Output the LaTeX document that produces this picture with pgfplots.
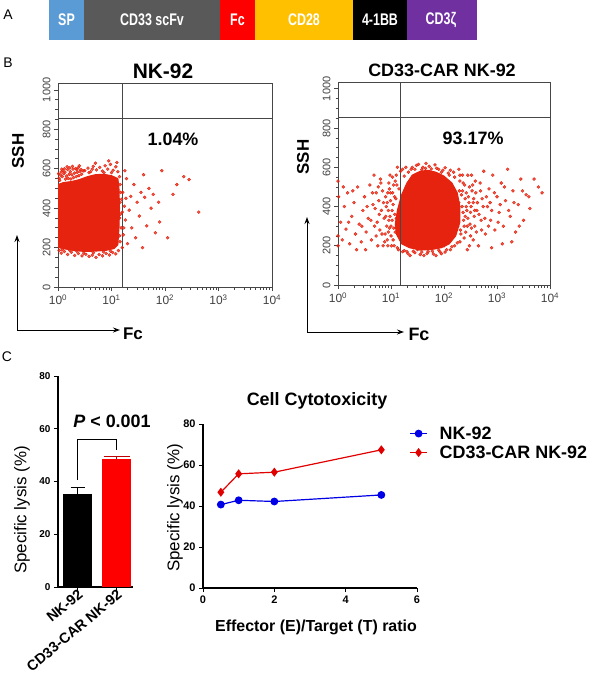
\documentclass[border=0pt]{standalone}
\usepackage{pgfplots}
\pgfplotsset{compat=1.18}
\usetikzlibrary{arrows.meta}
\usepackage{fontspec}
\setmainfont{Liberation Sans}
\definecolor{spblue}{RGB}{91,155,213}
\definecolor{scfvgray}{RGB}{89,89,89}
\definecolor{fcred}{RGB}{255,0,0}
\definecolor{cdamber}{RGB}{255,192,0}
\definecolor{cdpurple}{RGB}{112,48,160}
\definecolor{flowred}{RGB}{230,35,15}
\definecolor{gatecol}{RGB}{70,70,70}
\definecolor{lineblue}{RGB}{0,0,230}
\definecolor{linered}{RGB}{225,0,0}
\newcommand{\fs}[1]{\fontsize{#1}{#1}\selectfont}
\newcommand{\tall}[1]{\scalebox{1}[1.35]{#1}}
\pgfplotsset{
  flowaxis/.style={scale only axis, xmin=0, xmax=4, ymin=0, ymax=1035,
    axis line style={gatecol, line width=0.9pt},
    xtick={0,1,2,3,4},
    xticklabels={10\textsuperscript{0},10\textsuperscript{1},10\textsuperscript{2},10\textsuperscript{3},10\textsuperscript{4}},
    minor xtick={0.301,0.477,0.602,0.699,0.778,0.845,0.903,0.954,
      1.301,1.477,1.602,1.699,1.778,1.845,1.903,1.954,
      2.301,2.477,2.602,2.699,2.778,2.845,2.903,2.954,
      3.301,3.477,3.602,3.699,3.778,3.845,3.903,3.954},
    ytick={0,200,400,600,800,1000}, minor ytick={0,50,...,1000},
    tick align=outside, xtick pos=left, ytick pos=left,
    major tick length=4bp, minor tick length=2.5bp,
    tick style={gatecol, line width=0.8pt},
    /pgf/number format/assume math mode=true,
    /pgf/number format/1000 sep={},
    yticklabel style={rotate=90, anchor=south, font=\fs{11}, text=darkgray},
    xticklabel style={font=\fs{12}, text=darkgray}},
  dots/.style={flowred, only marks, mark=*, mark size=1.5pt, mark options={draw=none, fill=flowred, fill opacity=0.75}},
}
\begin{document}
\begin{tikzpicture}
\useasboundingbox (0,0) rectangle (600bp,-686bp);
% ---------------- Panel A ----------------
\node[font=\fs{14}] at (8bp,-15bp) {A};
\begin{axis}[at={(49bp,-40bp)}, anchor=south west, scale only axis, width=428bp, height=40bp,
  xmin=0, xmax=428, ymin=0, ymax=1, hide axis, clip=false]
\addplot[xbar stacked, bar width=40bp, fill=spblue, draw=none] coordinates {(35,0.5)};
\addplot[xbar stacked, bar width=40bp, fill=scfvgray, draw=none] coordinates {(136,0.5)};
\addplot[xbar stacked, bar width=40bp, fill=fcred, draw=none] coordinates {(35,0.5)};
\addplot[xbar stacked, bar width=40bp, fill=cdamber, draw=none] coordinates {(98,0.5)};
\addplot[xbar stacked, bar width=40bp, fill=black, draw=none] coordinates {(54,0.5)};
\addplot[xbar stacked, bar width=40bp, fill=cdpurple, draw=none] coordinates {(70,0.5)};
\end{axis}
\begin{scope}[every node/.style={text=white, font=\bfseries\fs{12.5}}]
\node at (66.5bp,-20bp) {\tall{SP}};
\node at (152bp,-20bp) {\tall{CD33 scFv}};
\node at (237.5bp,-20bp) {\tall{Fc}};
\node at (304bp,-20bp) {\tall{CD28}};
\node at (380bp,-20bp) {\tall{4-1BB}};
\node at (441bp,-20bp) {\tall{CD3ζ}};
\end{scope}
% ---------------- Panel B ----------------
\node[font=\fs{14}] at (8bp,-63bp) {B};
\begin{axis}[flowaxis, at={(58bp,-287bp)}, anchor=south west, width=214bp, height=204bp]
\addplot[fill=flowred, draw=flowred, line width=1pt, line join=round] coordinates {
(0.0,200)(0.15,192)(0.3,185)(0.5,180)(0.7,182)(0.9,186)(1.05,195)(1.12,215)(1.14,300)(1.15,400)(1.14,500)(1.12,550)(1.0,565)(0.85,572)(0.7,570)(0.55,560)(0.4,545)(0.25,535)(0.1,530)(0.0,520)(0.0,200)};
\addplot[dots] coordinates {
(0.02,552)(0.05,568)(0.03,541)(0.08,560)(0.11,575)(0.09,590)(0.14,547)(0.16,563)(0.13,583)(0.19,551)(0.21,572)(0.18,596)(0.24,548)(0.26,569)(0.23,585)(0.29,555)(0.31,578)(0.28,598)(0.34,560)(0.36,582)(0.33,601)(0.39,565)(0.41,587)(0.38,606)(0.44,572)(0.43,596)(0.06,584)(0.17,610)(0.27,612)(0.40,615)(0.12,600)(0.35,596)(0.22,604)(0.47,589)(0.01,575)(0.07,598)
(0.50,590)(0.56,603)(0.61,585)(0.66,612)(0.72,594)(0.78,607)(0.83,588)(0.88,615)(0.93,598)(0.98,622)(1.03,592)(1.08,610)(1.12,585)(0.70,628)(0.95,640)(1.10,632)(0.58,580)(0.86,580)(0.64,598)(1.00,580)
(0.02,185)(0.06,172)(0.12,180)(0.18,165)(0.25,176)(0.31,160)(0.38,170)(0.45,158)(0.52,166)(0.58,155)(0.64,162)(0.71,150)(0.77,165)(0.83,158)(0.90,170)(0.96,162)(1.02,175)(1.08,168)(1.13,185)(0.48,172)(0.85,178)(0.35,182)(0.08,190)(0.22,186)(0.66,174)(0.98,182)
(1.15,260)(1.15,350)(1.16,430)(1.17,480)(1.15,560)(1.2,380)(1.23,300)(1.27,450)
(1.16,230)(1.18,300)(1.17,370)(1.19,445)(1.16,520)(1.22,265)(1.24,410)(1.21,480)(1.26,340)(1.28,550)(1.30,220)(1.33,390)(1.36,460)(1.38,300)(1.42,520)(1.45,250)(1.48,430)(1.52,360)(1.55,480)(1.58,200)(1.62,455)(1.66,310)(1.70,500)(1.74,400)(1.78,470)(1.82,275)(1.88,430)(1.94,590)(2.05,250)(2.15,470)(2.22,520)(2.35,560)(2.45,545)(2.63,380)(1.90,330)(1.60,570)(1.25,590)(1.20,200)};
\addplot[gatecol, line width=1.1pt] coordinates {(1.2,0)(1.2,1035)};
\addplot[gatecol, line width=1.1pt] coordinates {(0,855)(4,855)};
\node[font=\bfseries\fs{18}] at (axis cs:2.15,750) {1.04\%};
\end{axis}
\node[font=\bfseries\fs{21}] at (163bp,-71bp) {NK-92};
\node[font=\bfseries\fs{17}, rotate=90] at (18bp,-151bp) {SSH};
\draw[-{Stealth[length=7bp,width=5bp]}, line width=1pt] (17bp,-330bp) -- (17bp,-235bp);
\draw[-{Stealth[length=7bp,width=5bp]}, line width=1pt] (17bp,-330bp) -- (120bp,-330bp);
\node[font=\bfseries\fs{17}] at (133bp,-334bp) {Fc};

\begin{axis}[flowaxis, at={(338bp,-285bp)}, anchor=south west, width=212bp, height=203bp]
\addplot[fill=flowred, draw=flowred, line width=1pt, line join=round] coordinates {
(1.1,260)(1.2,210)(1.35,190)(1.55,178)(1.75,180)(1.95,190)(2.1,210)(2.22,250)(2.3,320)(2.3,400)(2.25,470)(2.15,520)(2.0,555)(1.85,575)(1.7,585)(1.55,580)(1.4,560)(1.3,520)(1.2,460)(1.12,380)(1.08,310)(1.1,260)};
\addplot[dots] coordinates {
(1.00,250)(1.02,330)(1.04,410)(1.03,470)(1.06,200)(1.08,530)(1.10,560)(1.14,180)(1.15,490)(1.18,580)(1.22,170)(1.25,555)(1.28,600)(1.32,160)(1.38,590)(1.45,165)(1.48,610)(1.55,155)(1.60,600)(1.68,160)(1.72,605)(1.80,158)(1.86,595)(1.92,170)(1.98,585)(2.05,180)(2.08,570)(2.15,195)(2.20,550)(2.25,215)(2.30,530)(2.32,260)(2.35,480)(2.38,300)(2.40,440)(2.36,370)(2.42,400)(2.45,340)(2.48,500)(2.50,250)(2.52,560)(2.55,420)(2.58,300)(2.60,470)(2.62,380)(2.65,200)(2.68,520)(2.70,330)(2.72,440)(2.75,580)(0.95,380)(0.92,300)(0.90,450)(0.88,220)(0.96,520)(1.12,600)(2.28,590)(2.44,180)
(0.72,250)(0.74,320)(0.77,430)(0.79,280)(0.82,380)(0.84,480)(0.87,340)(0.89,260)(0.91,400)(0.93,230)(0.94,470)(0.97,290)(0.98,350)(0.99,430)(1.01,200)(1.05,290)(1.07,360)(1.09,440)(1.11,510)(0.85,200)(0.81,520)(0.76,500)
(2.26,300)(2.28,420)(2.30,220)(2.33,460)(2.37,330)(2.39,510)(2.41,270)(2.43,380)(2.46,450)(2.49,310)(2.51,400)(2.53,480)(2.57,350)(2.59,530)(2.61,270)(2.63,420)(2.66,360)(2.69,480)(2.71,280)(2.74,400)(2.77,340)(2.80,450)(2.84,300)(2.87,420)(2.35,560)(2.55,230)
(1.3,170)(1.5,180)(1.7,170)(1.9,178)(2.0,200)(1.4,600)(1.65,595)(1.95,575)(2.1,560)
(1.12,190)(1.25,175)(1.42,172)(1.58,168)(1.62,150)(1.78,172)(1.85,150)(2.02,168)(2.12,180)(2.2,200)(1.36,150)(1.95,160)
(1.22,590)(1.33,575)(1.45,590)(1.52,615)(1.58,588)(1.76,592)(1.83,612)(1.9,590)(2.02,598)(2.12,585)(2.18,575)(1.66,620)
(0.9,350)(0.93,420)(0.95,270)(0.97,490)(1.0,300)(1.02,380)(1.04,230)(1.05,510)(1.07,450)(1.08,270)(1.1,340)(0.96,330)(0.99,470)(1.03,550)(0.94,200)(0.98,560)
(2.27,360)(2.29,480)(2.31,280)(2.34,400)(2.36,520)(2.38,240)(2.4,350)(2.42,470)(2.44,300)(2.47,420)(2.5,370)(2.52,290)(2.54,510)(2.56,440)(2.3,560)(2.45,560)(2.48,200)(2.58,380)
(2.9,380)(2.95,470)(3.02,320)(3.06,410)(3.14,500)(3.22,380)(3.32,420)(3.42,300)(3.48,480)(3.6,450)(0.55,400)(0.62,330)(0.45,300)(0.28,480)(0.2,320)(0.65,470)(0.7,390)
(0.00,200)(0.00,250)(0.01,450)(0.00,530)(0.05,320)(0.08,230)(0.12,400)(0.15,285)(0.18,470)(0.22,210)(0.26,350)(0.30,420)(0.33,260)(0.37,500)(0.40,310)(0.44,220)(0.47,380)(0.50,450)(0.53,270)(0.57,340)(0.60,510)(0.63,230)(0.66,410)(0.69,300)(0.72,470)(0.75,200)(0.78,360)(0.80,540)(0.83,260)(0.86,420)(0.52,180)(0.68,560)(0.35,180)(0.10,500)
(2.78,260)(2.82,400)(2.85,490)(2.88,330)(2.92,560)(2.96,280)(3.00,450)(3.04,370)(3.08,520)(3.12,300)(3.16,430)(3.20,590)(3.25,350)(3.30,480)(3.35,270)(3.40,410)(3.45,540)(3.50,330)(3.55,460)(3.62,390)(3.70,540)(3.78,500)(3.85,470)(3.10,210)(3.28,220)(2.90,190)};
\addplot[gatecol, line width=1.1pt] coordinates {(1.18,0)(1.18,1035)};
\addplot[gatecol, line width=1.1pt] coordinates {(0,855)(4,855)};
\node[font=\bfseries\fs{18}] at (axis cs:2.55,750) {93.17\%};
\end{axis}
\node[font=\bfseries\fs{18}] at (442bp,-70bp) {CD33-CAR NK-92};
\node[font=\bfseries\fs{17}, rotate=90] at (303bp,-157bp) {SSH};
\draw[-{Stealth[length=7bp,width=5bp]}, line width=1pt] (307bp,-332bp) -- (307bp,-217bp);
\draw[-{Stealth[length=7bp,width=5bp]}, line width=1pt] (307bp,-332bp) -- (404bp,-332bp);
\node[font=\bfseries\fs{18}] at (419bp,-334bp) {Fc};

% ---------------- Panel C ----------------
\node[font=\fs{14}] at (7bp,-357bp) {C};
\begin{axis}[at={(58bp,-587bp)}, anchor=south west, scale only axis, width=75bp, height=211bp,
  xmin=0.5, xmax=2.42, ymin=0, ymax=80,
  axis lines*=left, axis line style={line width=1.1pt},
  xtick={1,2}, xticklabels={NK-92, CD33-CAR NK-92},
  xticklabel style={rotate=40, anchor=east, font=\bfseries\fs{14.5}, xshift=5bp, yshift=-3bp},
  ytick={0,20,40,60,80},
  /pgf/number format/assume math mode=true,
  yticklabel style={font=\bfseries\fs{10}},
  tick align=outside, major tick length=4bp, tick style={line width=1pt, black},
  clip=false]
\addplot[ybar, bar width=29bp, bar shift=0pt, fill=black, draw=none,
  error bars/.cd, y dir=plus, y explicit,
  error bar style={line width=1.3pt, black},
  error mark options={rotate=90, mark size=7bp, line width=1.3pt, black}]
  coordinates {(1,35.4) +- (0,2.2)};
\addplot[ybar, bar width=29bp, bar shift=0pt, fill=red, draw=none,
  error bars/.cd, y dir=plus, y explicit,
  error bar style={line width=1.3pt, red!75!black},
  error mark options={rotate=90, mark size=13bp, line width=1.3pt, red!75!black}]
  coordinates {(2,48.6) +- (0,0.8)};
\addplot[sharp plot, black, line width=1.4pt, mark=none] coordinates {(1,40.5)(1,56)(2,56)(2,52)};
\end{axis}
\node[font=\bfseries\fs{18}] at (112bp,-421bp) {\textit{P} < 0.001};
\node[font=\fs{17}, rotate=90] at (22bp,-510bp) {Specific lysis (\%)};

\begin{axis}[at={(203bp,-588bp)}, anchor=south west, scale only axis, width=214bp, height=164bp,
  xmin=0, xmax=6, ymin=0, ymax=80,
  axis lines*=left, axis line style={line width=1.1pt},
  xtick={0,2,4,6}, ytick={0,20,40,60,80},
  /pgf/number format/assume math mode=true,
  ticklabel style={font=\bfseries\fs{11}},
  tick align=outside, major tick length=4bp, tick style={line width=1pt, black},
  legend style={at={(0.95,1.01)}, anchor=north west, draw=none, fill=none,
    font=\bfseries\fs{18}, row sep=1bp, /tikz/every odd column/.append style={column sep=10bp}},
  legend cell align=left, clip=false]
\addplot[lineblue, line width=1.2pt, mark=*, mark size=3.3pt] coordinates {(0.5,40.7)(1,42.8)(2,42.2)(5,45.4)};
\addplot[linered, line width=1.2pt, mark=diamond*, mark size=3.6pt] coordinates {(0.5,46.7)(1,55.7)(2,56.5)(5,67.4)};
\legend{NK-92, CD33-CAR NK-92}
\end{axis}
\node[font=\bfseries\fs{18}] at (317bp,-401bp) {Cell Cytotoxicity};
\node[font=\fs{17}, rotate=90] at (175bp,-508bp) {Specific lysis (\%)};
\node[font=\bfseries\fs{16}] at (316bp,-627bp) {Effector (E)/Target (T) ratio};
\end{tikzpicture}
\end{document}
